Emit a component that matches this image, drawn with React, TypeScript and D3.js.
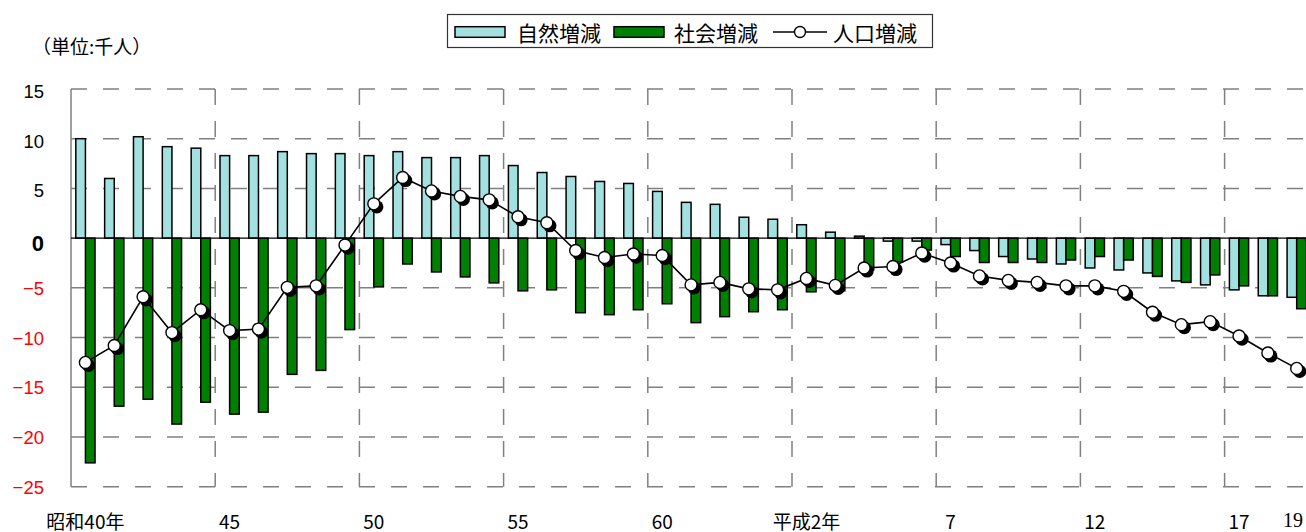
import * as d3 from "d3";
import React from "react";

// 昭和40年(1965) .. 平成19年(2007)
const years: number[] = d3.range(1965, 2008);

// 自然増減 (千人)
const natural: number[] = [
  10.0, 6.0, 10.2, 9.2, 9.05, 8.3, 8.3, 8.7, 8.5, 8.5,
  8.3, 8.7, 8.1, 8.1, 8.3, 7.3, 6.6, 6.2, 5.7, 5.5,
  4.7, 3.6, 3.4, 2.1, 1.9, 1.35, 0.6, 0.2, -0.3, -0.3,
  -0.65, -1.25, -1.85, -2.1, -2.6, -3.0, -3.2, -3.5, -4.3, -4.7,
  -5.2, -5.8, -5.95,
];

// 社会増減 (千人)
const social: number[] = [
  -22.6, -16.9, -16.2, -18.7, -16.5, -17.7, -17.5, -13.7, -13.3, -9.2,
  -4.9, -2.6, -3.4, -3.9, -4.5, -5.3, -5.2, -7.5, -7.7, -7.2,
  -6.6, -8.5, -7.9, -7.4, -7.2, -5.4, -5.3, -3.2, -2.4, -1.2,
  -1.85, -2.45, -2.45, -2.45, -2.2, -1.85, -2.2, -3.85, -4.45, -3.7,
  -4.8, -5.8, -7.1,
];

// 人口増減 (千人)
const total: number[] = [
  -12.5, -10.8, -5.9, -9.5, -7.2, -9.3, -9.15, -4.95, -4.8, -0.7,
  3.45, 6.1, 4.75, 4.2, 3.85, 2.15, 1.55, -1.25, -1.95, -1.6,
  -1.75, -4.7, -4.45, -5.1, -5.2, -4.05, -4.75, -3.0, -2.85, -1.5,
  -2.5, -3.8, -4.25, -4.45, -4.8, -4.8, -5.35, -7.45, -8.7, -8.4,
  -9.85, -11.55, -13.1,
];

// x tick labels: year -> text
const xTickYears: number[] = [1965, 1970, 1975, 1980, 1985, 1990, 1995, 2000, 2005, 2007];
const xTickText: string[] = ["昭和40年", "45", "50", "55", "60", "平成2年", "7", "12", "17", "19"];

const yTicks: number[] = [15, 10, 5, 0, -5, -10, -15, -20, -25];

const seriesKeys = ["natural", "social"];
const legendNames = ["自然増減", "社会増減", "人口増減"];

const W = 1306;
const H = 532;
const plotLeft = 71;
const step = 28.84;
const plotRight = plotLeft + years.length * step;
const plotTop = 89;
const plotBottom = 486.7;

const CYAN = "#a3e1e1";
const GREEN = "#008000";
const GRID = "#808080";

const App: React.FC = () => {
  const x = d3.scaleBand<number>().domain(years).range([plotLeft, plotRight]).padding(0);
  const inner = d3.scaleBand<string>().domain(seriesKeys).range([0, x.bandwidth()]).paddingOuter(0.5);
  const y = d3.scaleLinear().domain([-25, 15]).range([plotBottom, plotTop]);
  const cx = (yr: number) => (x(yr) as number) + x.bandwidth() / 2;

  const linePath = d3
    .line<number>()
    .x((_, i) => cx(years[i]))
    .y((d) => y(d))(total) as string;

  // vertical grid every 5 years (left edge of the 5th category)
  const vGrid = years.filter((yr) => yr > 1965 && (yr - 1965) % 5 === 0);

  const barRect = (v: number) => ({
    y: Math.min(y(v), y(0)),
    h: Math.abs(y(v) - y(0)),
  });

  return (
    <svg
      width={W}
      height={H}
      style={{ position: "absolute", left: 0, top: 0, background: "#fff" }}
    >
      {/* horizontal grid */}
      {yTicks
        .filter((t) => t !== 0)
        .map((t) => (
          <line
            key={"h" + t}
            x1={plotLeft}
            x2={plotRight}
            y1={y(t)}
            y2={y(t)}
            stroke={GRID}
            strokeWidth={1.5}
            strokeDasharray="16 16"
          />
        ))}
      {/* vertical grid */}
      {vGrid.map((yr) => (
        <line
          key={"v" + yr}
          x1={x(yr)}
          x2={x(yr)}
          y1={plotTop}
          y2={plotBottom}
          stroke={GRID}
          strokeWidth={1.5}
          strokeDasharray="16 16"
        />
      ))}
      {/* y axis */}
      <line x1={plotLeft} x2={plotLeft} y1={plotTop} y2={plotBottom} stroke={GRID} strokeWidth={1.5} />

      {/* bars */}
      {years.map((yr, i) => {
        const n = barRect(natural[i]);
        const s = barRect(social[i]);
        const x0 = x(yr) as number;
        return (
          <g key={"b" + yr} stroke="#000" strokeWidth={1.5}>
            <rect x={x0 + (inner("natural") as number)} y={n.y} width={inner.bandwidth()} height={n.h} fill={CYAN} />
            <rect x={x0 + (inner("social") as number)} y={s.y} width={inner.bandwidth()} height={s.h} fill={GREEN} />
          </g>
        );
      })}

      {/* zero line */}
      <line x1={plotLeft} x2={plotRight} y1={y(0)} y2={y(0)} stroke="#000" strokeWidth={1.2} />

      {/* population change line */}
      <path d={linePath} fill="none" stroke="#000" strokeWidth={1.6} />
      {total.map((v, i) => (
        <g key={"m" + i}>
          <circle cx={cx(years[i]) + 3} cy={y(v) + 3} r={6.6} fill="#000" />
          <circle cx={cx(years[i])} cy={y(v)} r={6} fill="#fff" stroke="#000" strokeWidth={1.4} />
        </g>
      ))}

      {/* y tick labels */}
      {yTicks.map((t) => (
        <text
          key={"yt" + t}
          x={44}
          y={y(t) + (t === 0 ? 5 : t > 0 ? 2.5 : 0.5)}
          textAnchor="end"
          dominantBaseline="central"
          fontFamily="'Liberation Sans', Arial, sans-serif"
          fontSize={t === 0 ? 22 : 18.5}
          fontWeight={t === 0 ? "bold" : "normal"}
          fill={t < 0 ? "#ff0000" : "#000"}
        >
          {t < 0 ? "\u2212" + Math.abs(t) : String(t)}
        </text>
      ))}

      {/* x tick labels */}
      {xTickYears.map((yr, i) => {
        const last = i === xTickText.length - 1;
        return (
          <text
            key={"xt" + yr}
            x={last ? 1303 : cx(yr)}
            y={520}
            textAnchor={last ? "end" : "middle"}
            dominantBaseline="central"
            fontFamily={
              last
                ? "'Liberation Serif', 'DejaVu Serif', serif"
                : "'Noto Sans CJK JP', sans-serif"
            }
            fontSize={last ? 20 : 19}
            fill="#000"
          >
            {xTickText[i]}
          </text>
        );
      })}

      {/* unit */}
      <text
        x={32}
        y={45}
        dominantBaseline="central"
        fontFamily="'Noto Sans CJK JP', sans-serif"
        fontSize={19}
        fill="#000"
      >
        （単位:千人）
      </text>

      {/* legend */}
      <g>
        <rect x={447.5} y={14.5} width={485} height={33} fill="#fff" stroke="#333" strokeWidth={1.2} />
        <rect x={455} y={26.7} width={50} height={10.6} fill={CYAN} stroke="#000" strokeWidth={1.5} />
        <rect x={614} y={26.7} width={50} height={10.6} fill={GREEN} stroke="#000" strokeWidth={1.5} />
        <line x1={773} x2={827} y1={32} y2={32} stroke="#000" strokeWidth={1.6} />
        <circle cx={800} cy={32} r={5.5} fill="#fff" stroke="#000" strokeWidth={1.4} />
        {[517, 674, 833].map((lx, i) => (
          <text
            key={"lg" + i}
            x={lx}
            y={32}
            dominantBaseline="central"
            fontFamily="'Noto Sans CJK JP', sans-serif"
            fontSize={21}
            fill="#000"
          >
            {legendNames[i]}
          </text>
        ))}
      </g>
    </svg>
  );
};

export default App;
